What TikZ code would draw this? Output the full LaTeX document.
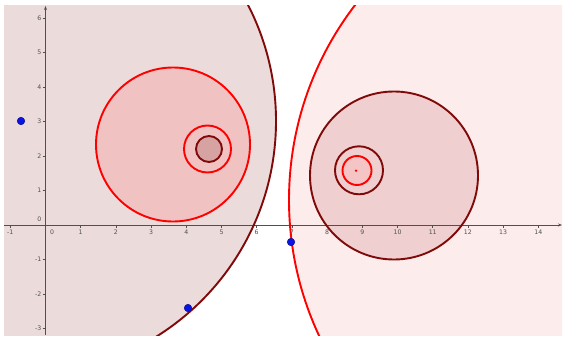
\documentclass[tikz,border=0pt]{standalone}
\usepackage{fontspec}
\setmainfont{Liberation Serif}
\setsansfont{DejaVu Sans}
\usetikzlibrary{arrows.meta}
\definecolor{ggred}{RGB}{255,0,0}
\definecolor{ggdark}{RGB}{128,10,10}
\definecolor{fillA}{RGB}{236,219,219}
\definecolor{fillB}{RGB}{240,194,194}
\definecolor{fillC}{RGB}{214,162,162}
\definecolor{fillD}{RGB}{253,236,236}
\definecolor{fillE}{RGB}{239,207,207}
\definecolor{fillF}{RGB}{245,196,196}
\definecolor{axisgray}{RGB}{80,80,80}
\definecolor{ptblue}{RGB}{10,20,230}
\tikzset{
  redring/.style={draw=ggred, line width=1.9pt},
  darkring/.style={draw=ggdark, line width=1.9pt},
  axisline/.style={draw=axisgray, line width=0.8pt},
  ticklbl/.style={font=\sffamily\fontsize{6.2}{7}\selectfont, text=axisgray, inner sep=0.5pt},
  bluept/.style={circle, fill=ptblue, draw=ptblue!60!black, line width=0.5pt, minimum size=7.5pt, inner sep=0pt}
}
\begin{document}
\begin{tikzpicture}[x=1pt,y=-1pt]
\useasboundingbox (0,0) rectangle (564,337);
\fill[white] (0,0) rectangle (564,337);
\begin{scope}
\clip (0,0) rectangle (564,337);
\node[anchor=base, font=\fontsize{27}{30}\selectfont] (title) at (126,-5.5) {(Right)};
\end{scope}
\begin{scope}
\clip (4,6) rectangle (562,335);
% fills
\fill[fillA] (22,121) circle (254);
\fill[fillD] (609.5,200) circle (320.5);
\fill[fillB] (173,144.5) circle (77);
\fill[fillC] (209,149) circle (13);
\fill[fillE] (394,175.5) circle (84);
\fill[fillF] (357,170.5) circle (14.5);
% axes
\draw[axisline, -{Stealth[length=4pt,width=3pt]}] (4,225) -- (562,225);
\draw[axisline, -{Stealth[length=4pt,width=3pt]}] (45.5,335) -- (45.5,6);
\foreach \i in {-1,...,14} {
  \draw[axisline, line width=0.5pt] ({45.5+35.2*\i},225) -- ({45.5+35.2*\i},228);
}
\foreach \i in {-1,1,2,3,4,5,6,7,8,9,10,11,12,13,14} {
  \node[ticklbl] at ({45.5+35.2*\i},232) {\i};
}
\node[ticklbl] at (52,232) {0};
\foreach \j in {-3,-2,-1,1,2,3,4,5,6} {
  \draw[axisline, line width=0.5pt] (42.5,{225-34.5*\j}) -- (45.5,{225-34.5*\j});
  \node[ticklbl, anchor=east] at (42,{225-34.5*\j}) {\j};
}
\node[ticklbl, anchor=east] at (42,219) {0};
% outlines
\draw[darkring] (22,121) circle (254);
\draw[redring] (609.5,200) circle (320.5);
\draw[redring] (173,144.5) circle (77);
\draw[redring] (207.5,149) circle (23.5);
\draw[darkring] (209,149) circle (13);
\draw[darkring] (394,175.5) circle (84);
\draw[darkring] (359,170.3) circle (24);
\draw[redring] (357,170.5) circle (14.5);
\fill[ggred] (356,170.7) circle (1.3);
% points
\node[bluept] (p1) at (21,121) {};
\node[bluept] (p2) at (188,308) {};
\node[bluept] (p3) at (291,242) {};
\end{scope}
\end{tikzpicture}
\end{document}
